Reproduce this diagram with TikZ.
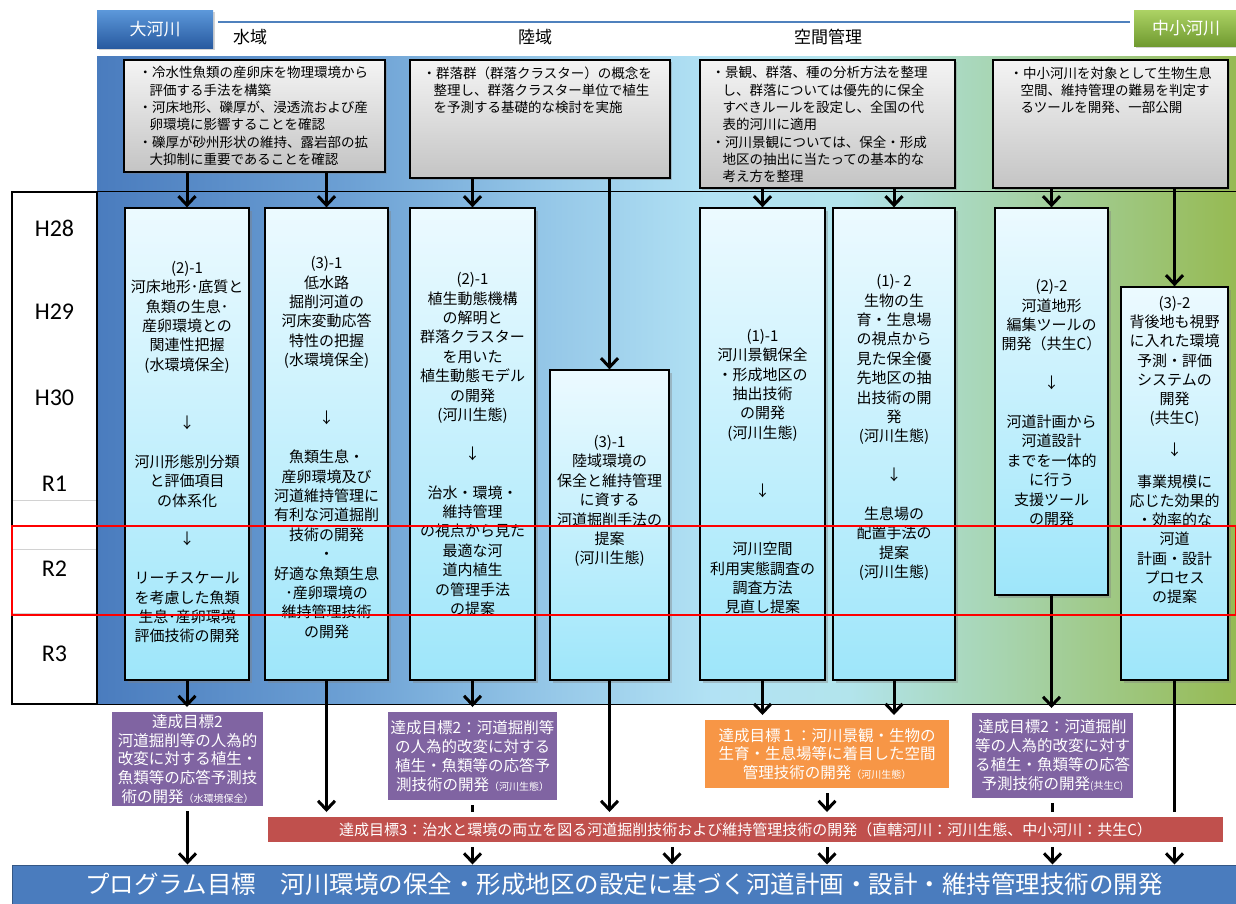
\documentclass[tikz,border=0pt]{standalone}
\usepackage{fontspec}
\setmainfont{Noto Sans CJK JP}
\newfontfamily\yrfont{Carlito}
\usetikzlibrary{arrows.meta,positioning,fit,shadows}
\definecolor{bgA}{RGB}{74,124,190}
\definecolor{bgB}{RGB}{108,160,212}
\definecolor{bgC}{RGB}{150,200,232}
\definecolor{bgD}{RGB}{178,226,244}
\definecolor{bgE}{RGB}{178,228,236}
\definecolor{bgF}{RGB}{168,214,182}
\definecolor{bgG}{RGB}{150,186,82}
\definecolor{ColTop}{RGB}{236,250,255}
\definecolor{ColBot}{RGB}{158,230,250}
\definecolor{NoteTop}{RGB}{244,244,244}
\definecolor{NoteBot}{RGB}{196,196,196}
\definecolor{BigTop}{RGB}{92,152,218}
\definecolor{BigBot}{RGB}{40,90,160}
\definecolor{SmallTop}{RGB}{172,210,100}
\definecolor{SmallBot}{RGB}{112,154,48}
\definecolor{HdrLine}{RGB}{79,129,189}
\definecolor{GoalPurple}{RGB}{128,100,162}
\definecolor{GoalOrange}{RGB}{247,150,70}
\definecolor{GoalRed}{RGB}{192,80,77}
\definecolor{ProgBlue}{RGB}{74,124,190}
\pgfdeclarehorizontalshading{bgshade}{100bp}{color(0bp)=(bgA); color(25bp)=(bgA); color(36bp)=(bgB); color(45bp)=(bgC); color(52bp)=(bgD); color(58bp)=(bgE); color(64bp)=(bgF); color(75bp)=(bgG); color(100bp)=(bgG)}
\newcommand\hangpad{\hspace*{11pt}}
\newcommand\tinytag[1]{{\fontsize{10}{12}\selectfont #1}}
\tikzset{hdrbox/.style ={
        text=white,
        inner sep=0,
        font=\fontsize{17}{20}\selectfont,
        drop shadow={opacity=.35, shadow xshift=1.5pt, shadow yshift=-1.5pt}
    },
    hdrline/.style ={
        draw=HdrLine,
        line width=1.5pt
    },
    area/.style ={
        font=\fontsize{17}{20}\selectfont
    },
    bgpanel/.style ={
        inner sep=0,
        shade,
        shading=bgshade
    },
    yrcol/.style ={
        draw=black,
        fill=white,
        line width=1.2pt,
        inner sep=0
    },
    frame/.style ={
        draw=black,
        line width=1.2pt
    },
    yrrule/.style ={
        draw=gray!35,
        line width=.8pt
    },
    yr/.style ={
        font=\yrfont\fontsize{24}{28}\selectfont
    },
    notebox/.style ={
        draw=black,
        line width=1.3pt,
        top color=NoteTop,
        bottom color=NoteBot,
        inner sep=0,
        drop shadow={opacity=.4, shadow xshift=2pt, shadow yshift=-2pt}
    },
    notetxt/.style ={
        anchor=north west,
        align=left,
        inner sep=0,
        font=\fontsize{13.5}{17.3}\selectfont
    },
    colbox/.style ={
        draw=black,
        line width=1.3pt,
        top color=ColTop,
        bottom color=ColBot,
        inner sep=0,
        drop shadow={opacity=.4, shadow xshift=2.5pt, shadow yshift=-2.5pt}
    },
    coltxt/.style ={
        align=center,
        inner sep=0,
        font=\fontsize{15}{19.4}\selectfont
    },
    goalbox/.style ={
        draw=white,
        line width=5pt,
        text=white,
        align=center,
        inner sep=0,
        font=\fontsize{15.5}{18.8}\selectfont,
        drop shadow={opacity=.3, shadow xshift=1pt, shadow yshift=-1.5pt}
    },
    progbar/.style ={
        fill=ProgBlue,
        draw=ProgBlue!70!black,
        line width=1pt,
        text=white,
        inner sep=0,
        font=\fontsize{24.5}{28}\selectfont
    },
    arr/.style ={
        draw,
        line width=3pt,
        -{Straight Barb[length=9pt,width=17pt]}
    },
    redmark/.style ={
        draw=red,
        line width=2.4pt,
        inner sep=0
    }}
\begin{document}
\begin{tikzpicture}[x=1pt,y=-1pt]
    \useasboundingbox (0,0) rectangle (1236,904);
    % header
    \node (big)[hdrbox,top color=BigTop,bottom color=BigBot,minimum width=116pt,minimum height=38pt,anchor=north west] at (97,10) {大河川};
    \node (small)[hdrbox,top color=SmallTop,bottom color=SmallBot,minimum width=104pt,minimum height=36pt,anchor=north west] at (1134,10) {中小河川};
    \draw[hdrline] ([xshift=5pt]big.east |- 0,22) -- ([xshift=-4pt]small.west |- 0,22);
    \node (water)[area] at (250,37) {水域};
    \node (land)[area] at (535,37) {陸域};
    \node (space)[area] at (828,37) {空間管理};

    % panel and year column
    \node (bg)[bgpanel,fit={(97,57) (1236,704)}] {};
    \node (yrs)[yrcol,fit={(12,192) (97,704)}] {};
    \draw[frame] (yrs.north west) -- (yrs.north west -| bg.east);
    \draw[frame] (yrs.south west) -- (yrs.south west -| bg.east);
    \foreach \yy in {500,549,613} \draw[yrrule] (13,\yy) -- (96,\yy);
    \foreach \lab/\yy in {H28/228,H29/312,H30/398,R1/484,R2/569,R3/654}
        \node (yr\lab)[yr] at (54.5,\yy) {\lab};

    % results so far
    \node (n1)[notebox,fit={(124,60) (385,172)}] {};
    \node (n2)[notebox,fit={(410,60) (670,178)}] {};
    \node (n3)[notebox,fit={(700,60) (955,188)}] {};
    \node (n4)[notebox,fit={(993,60) (1228,188)}] {};
    \node (n1txt)[notetxt] at ([shift={(15pt,-7pt)}]n1.north west) {・冷水性魚類の産卵床を物理環境から\\\hangpad 評価する手法を構築\\・河床地形、礫厚が、浸透流および産\\\hangpad 卵環境に影響することを確認\\・礫厚が砂州形状の維持、露岩部の拡\\\hangpad 大抑制に重要であることを確認};
    \node (n2txt)[notetxt] at ([shift={(13pt,-7pt)}]n2.north west) {・群落群（群落クラスター）の概念を\\\hangpad 整理し、群落クラスター単位で植生\\\hangpad を予測する基礎的な検討を実施};
    \node (n3txt)[notetxt] at ([shift={(12pt,-7pt)}]n3.north west) {・景観、群落、種の分析方法を整理\\\hangpad し、群落については優先的に保全\\\hangpad すべきルールを設定し、全国の代\\\hangpad 表的河川に適用\\・河川景観については、保全・形成\\\hangpad 地区の抽出に当たっての基本的な\\\hangpad 考え方を整理};
    \node (n4txt)[notetxt] at ([shift={(17pt,-7pt)}]n4.north west) {・中小河川を対象として生物生息\\\hangpad 空間、維持管理の難易を判定す\\\hangpad るツールを開発、一部公開};

    % research columns
    \node (A)[colbox,fit={(125,208) (249,680)}] {};
    \node (B)[colbox,fit={(265,208) (388,680)}] {};
    \node (C)[colbox,fit={(410,208) (535,680)}] {};
    \node (D)[colbox,fit={(550,370) (669,680)}] {};
    \node (E)[colbox,fit={(700,208) (825,680)}] {};
    \node (F)[colbox,fit={(833,208) (955,680)}] {};
    \node (G)[colbox,fit={(995,208) (1108,595)}] {};
    \node (H)[colbox,fit={(1121,287) (1228,680)}] {};

    \node (Atxt)[coltxt] at ([yshift=-8pt]A.center) {(2)-1\\河床地形･底質と\\魚類の生息･\\産卵環境との\\関連性把握\\(水環境保全)\\[38.8pt]↓\\[19.4pt]河川形態別分類\\と評価項目\\の体系化\\[19.4pt]↓\\[19.4pt]リーチスケール\\を考慮した魚類\\生息･産卵環境\\評価技術の開発};
    \node (Btxt)[coltxt] at ([yshift=-3.5pt]B.center) {(3)-1\\低水路\\掘削河道の\\河床変動応答\\特性の把握\\(水環境保全)\\[38.8pt]↓\\[19.4pt]魚類生息・\\産卵環境及び\\河道維持管理に\\有利な河道掘削\\技術の開発\\・\\好適な魚類生息\\･産卵環境の\\維持管理技術\\の開発};
    \node (Ctxt)[coltxt] at (C.center) {(2)-1\\植生動態機構\\の解明と\\群落クラスター\\を用いた\\植生動態モデル\\の開発\\(河川生態)\\[19.4pt]↓\\[19.4pt]治水・環境・\\維持管理\\の視点から見た\\最適な河\\道内植生\\の管理手法\\の提案};
    \node (Dtxt)[coltxt] at ([yshift=24pt]D.center) {(3)-1\\陸域環境の\\保全と維持管理\\に資する\\河道掘削手法の\\提案\\(河川生態)};
    \node (Etxt)[coltxt] at ([yshift=-27.5pt]E.center) {(1)-1\\河川景観保全\\・形成地区の\\抽出技術\\の開発\\(河川生態)\\[38.8pt]↓\\[38.8pt]河川空間\\利用実態調査の\\調査方法\\見直し提案};
    \node (Ftxt)[coltxt] at ([yshift=16.5pt]F.center) {(1)- 2\\生物の生\\育・生息場\\の視点から\\見た保全優\\先地区の抽\\出技術の開\\発\\(河川生態)\\[19.4pt]↓\\[19.4pt]生息場の\\配置手法の\\提案\\(河川生態)};
    \node (Gtxt)[coltxt] at ([yshift=-1pt]G.center) {(2)-2\\河道地形\\編集ツールの\\開発（共生C）\\[19.4pt]↓\\[19.4pt]河道計画から\\河道設計\\までを一体的\\に行う\\支援ツール\\の開発};
    \node (Htxt)[coltxt,font=\fontsize{15}{19.2}\selectfont] at ([yshift=33.5pt]H.center) {(3)-2\\背後地も視野\\に入れた環境\\予測・評価\\システムの\\開発\\(共生C)\\[12.6pt]↓\\[12.6pt]事業規模に\\応じた効果的\\・効率的な\\河道\\計画・設計\\プロセス\\の提案};

    \draw[arr] (A.north |- n1.south) -- (A.north);
    \draw[arr] (B.north |- n1.south) -- (B.north);
    \draw[arr] (C.north |- n2.south) -- (C.north);
    \draw[arr] (D.north |- n2.south) -- (D.north);
    \draw[arr] (E.north |- n3.south) -- (E.north);
    \draw[arr] (F.north |- n3.south) -- (F.north);
    \draw[arr] (G.north |- n4.south) -- (G.north);
    \draw[arr] (H.north |- n4.south) -- (H.north);

    % goals
    \node (prog)[progbar,minimum width=1224pt,minimum height=39pt] at (624,884.5) {プログラム目標　河川環境の保全・形成地区の設定に基づく河道計画・設計・維持管理技術の開発};
    \node (g2a)[goalbox,fill=GoalPurple,minimum width=156pt,minimum height=99pt] at (187.5,759) {達成目標2\\河道掘削等の人為的\\改変に対する植生・\\魚類等の応答予測技\\術の開発\tinytag{（水環境保全）}};
    \node (g2b)[goalbox,fill=GoalPurple,minimum width=174pt,minimum height=93pt] at (472.5,756) {達成目標2：河道掘削等\\の人為的改変に対する\\植生・魚類等の応答予\\測技術の開発\tinytag{（河川生態）}};
    \node (g1)[goalbox,fill=GoalOrange,minimum width=249pt,minimum height=73pt] at (827,754) {達成目標１：河川景観・生物の\\生育・生息場等に着目した空間\\管理技術の開発\tinytag{（河川生態）}};
    \node (g2c)[goalbox,fill=GoalPurple,minimum width=166pt,minimum height=90pt] at (1052.5,755.5) {達成目標2：河道掘削\\等の人為的改変に対す\\る植生・魚類等の応答\\予測技術の開発\tinytag{(共生C)}};

    \draw[arr] (A.south) -- (A.south |- g2a.north);
    \draw[arr] (C.south) -- (C.south |- g2b.north);
    \draw[arr] (E.south) -- (E.south |- g1.north);
    \draw[arr] (F.south) -- (F.south |- g1.north);
    \draw[arr] (G.south) -- (G.south |- g2c.north);

    % these run behind the bar
    \draw[arr] (H.south) -- (H.south |- prog.north);
    \draw[arr] (g2b.south) -- (g2b.south |- prog.north);
    \draw[arr] (g2c.south) -- (g2c.south |- prog.north);

    \node (g3)[goalbox,fill=GoalRed,font=\fontsize{15}{18}\selectfont,minimum width=960pt,minimum height=30pt] at (745.5,829.5) {達成目標3：治水と環境の両立を図る河道掘削技術および維持管理技術の開発（直轄河川：河川生態、中小河川：共生C）};

    \draw[arr] (B.south) -- (B.south |- g3.north);
    \draw[arr] (D.south) -- (D.south |- g3.north);
    \draw[arr] (g1.south) -- (g1.south |- g3.north);
    \draw[arr] (g1.south |- g3.south) -- (g1.south |- prog.north);
    \draw[arr] (g3.south -| 672,0) -- (prog.north -| 672,0);
    \draw[arr] (g2a.south) -- (g2a.south |- prog.north);

    \node (r2)[redmark,fit={(12,526) (1236,615)}] {};
\end{tikzpicture}
\end{document}
